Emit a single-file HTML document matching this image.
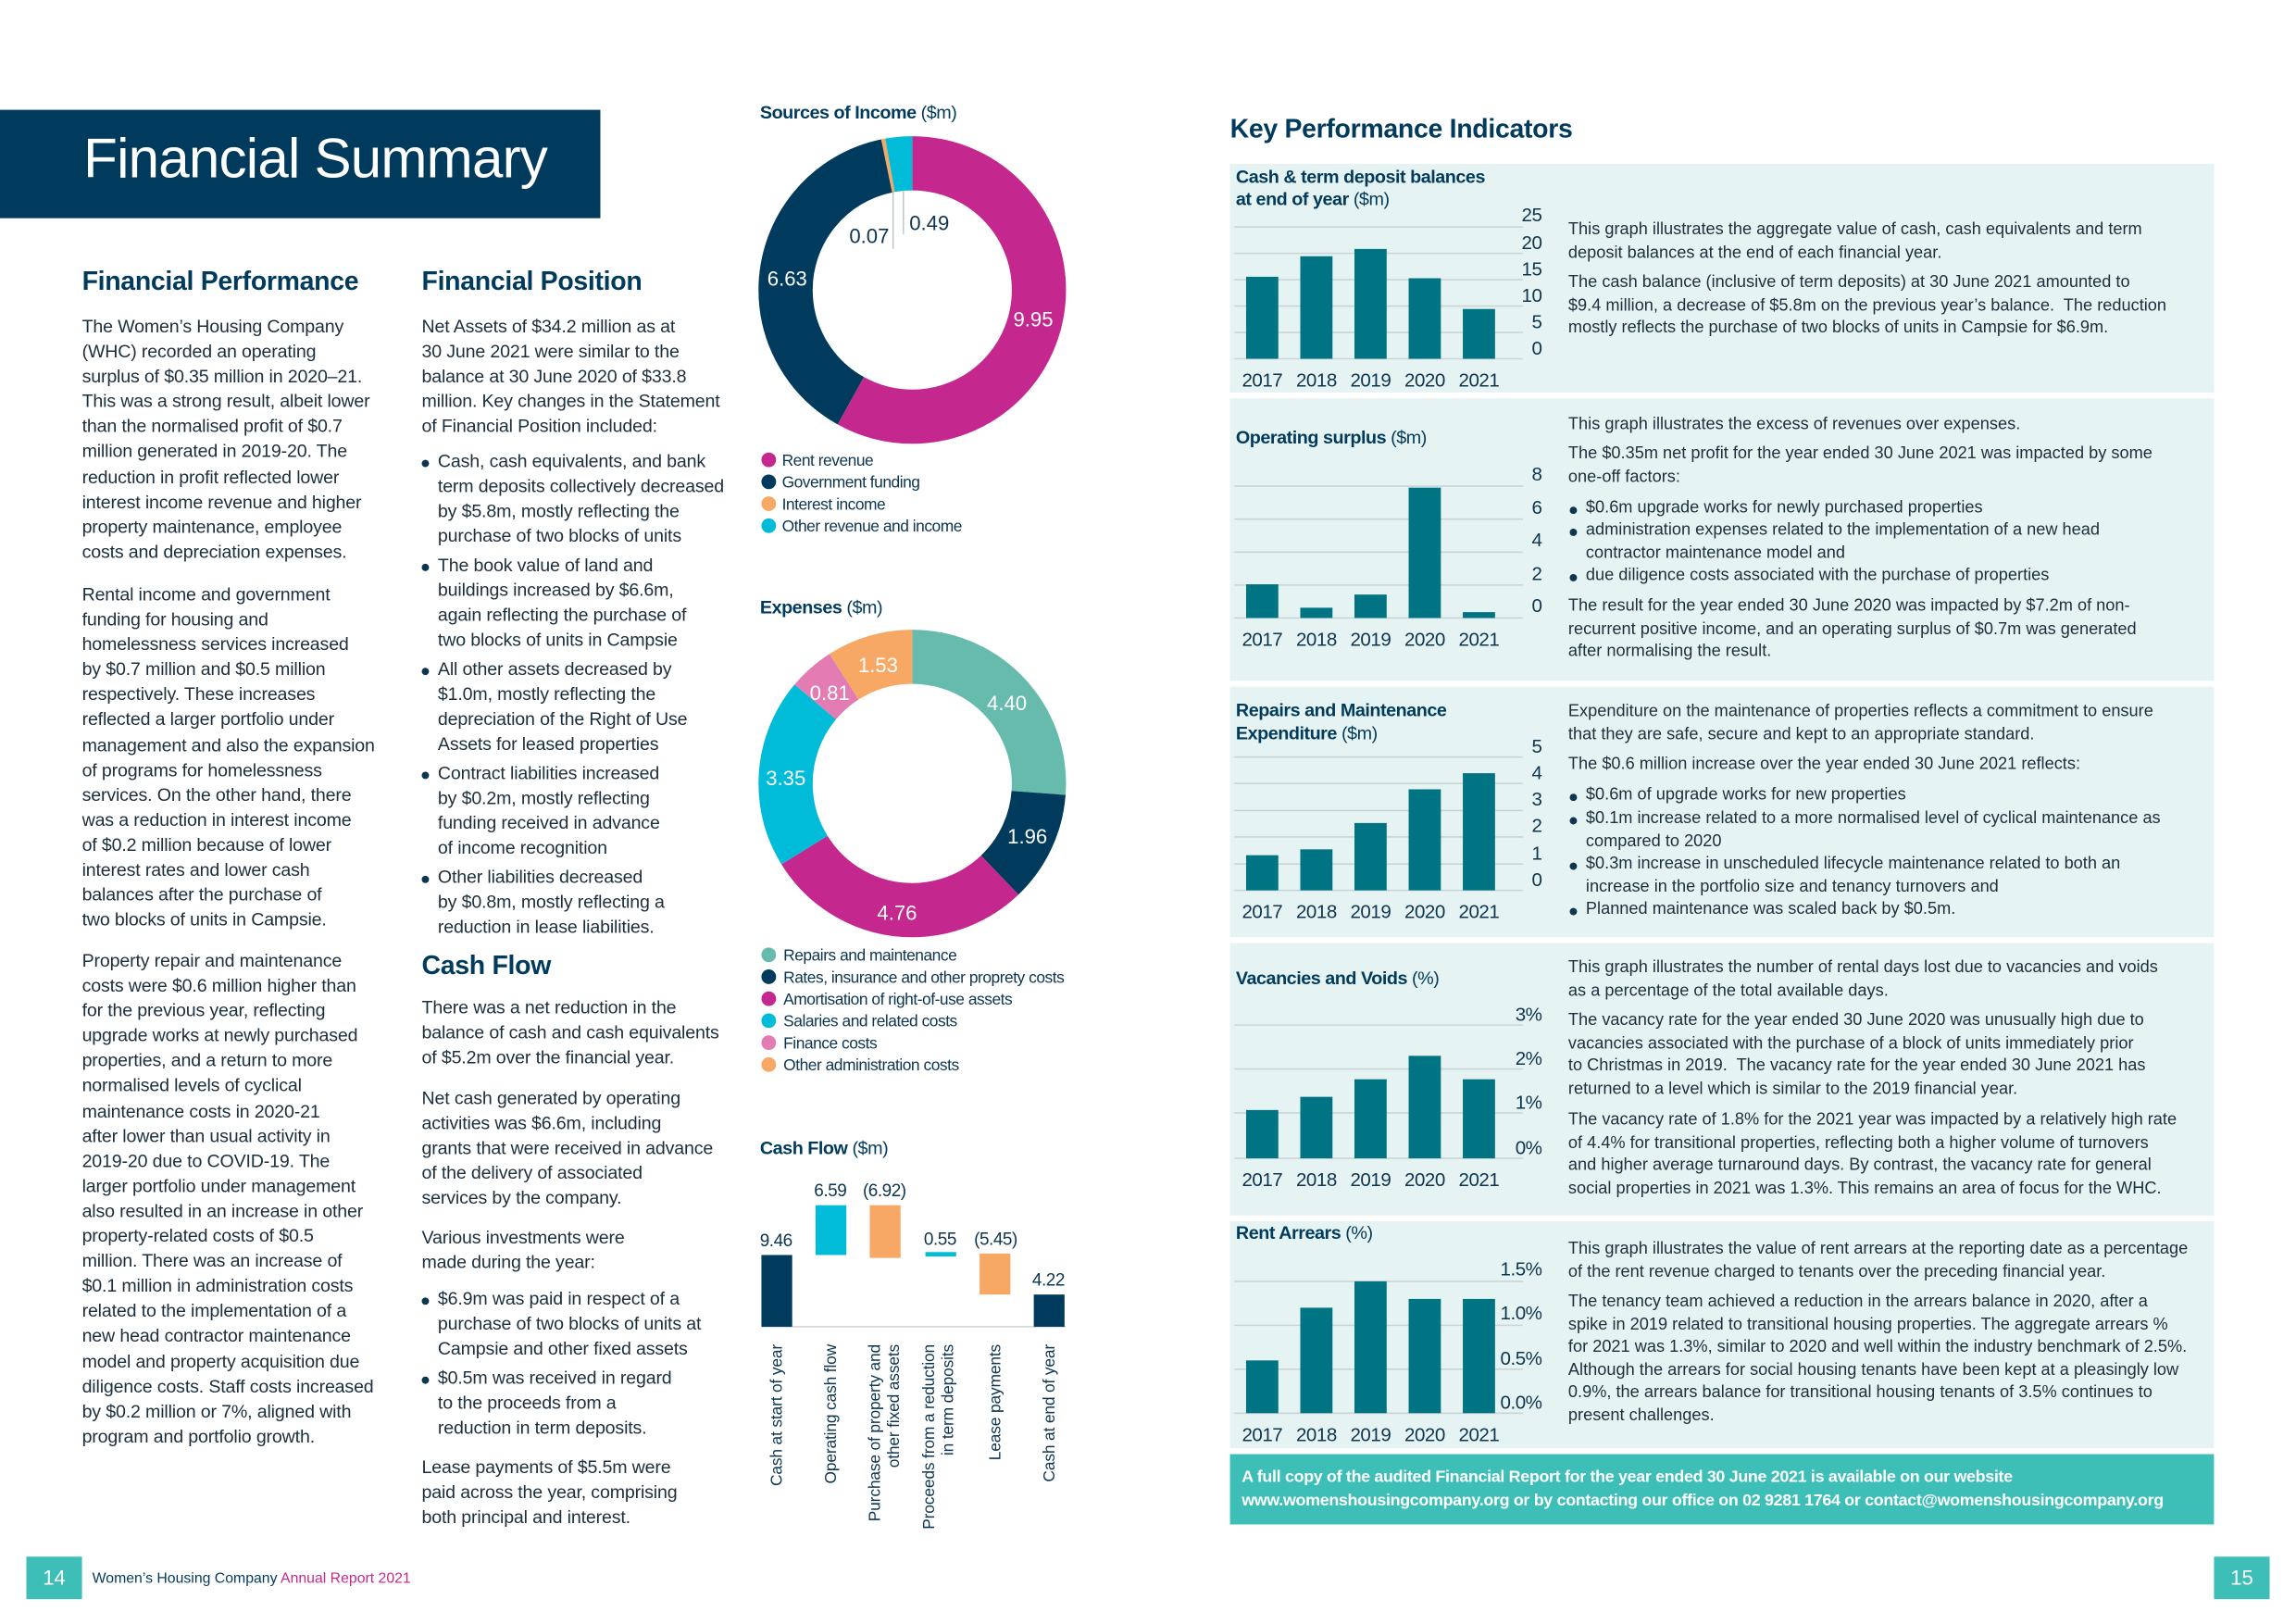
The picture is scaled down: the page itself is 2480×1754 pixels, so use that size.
<!DOCTYPE html>
<html><head><meta charset="utf-8">
<style>
html,body{margin:0;padding:0;background:#fff;}
body{width:2480px;height:1754px;overflow:hidden;position:relative;}
#w{position:absolute;left:0;top:0;width:1568px;height:1109px;transform:scale(1.58163);transform-origin:0 0;font-family:"Liberation Sans",sans-serif;color:#0d3550;}
.a{position:absolute;white-space:nowrap;}
.t{font-size:12.4px;line-height:17.1px;letter-spacing:-0.1px;color:#1c2f3c;}
.h{font-size:18px;color:#003a5c;letter-spacing:-0.2px;font-weight:600;}
.r{font-size:11.5px;line-height:15.6px;letter-spacing:0px;color:#1c2f3c;}
.b::before{content:"";position:absolute;left:-11px;top:7px;width:5px;height:5px;border-radius:50%;background:#0d3550;}
.rb::before{top:6px;}
.panel{position:absolute;left:840px;width:672px;background:#e6f3f3;}
</style></head><body><div id="w">

<div class="a" style="left:0;top:75px;width:410px;height:74px;background:#003a5c;"></div>
<div class="a" style="left:57px;top:88px;font-size:38px;color:#fff;letter-spacing:-0.5px;">Financial Summary</div>

<div class="a h" style="left:56px;top:182px;">Financial Performance</div>
<div class="a t" style="left:56px;top:215px;">The Women’s Housing Company<br>(WHC) recorded an operating<br>surplus of $0.35 million in 2020–21.<br>This was a strong result, albeit lower<br>than the normalised profit of $0.7<br>million generated in 2019-20. The<br>reduction in profit reflected lower<br>interest income revenue and higher<br>property maintenance, employee<br>costs and depreciation expenses.</div>
<div class="a t" style="left:56px;top:398px;">Rental income and government<br>funding for housing and<br>homelessness services increased<br>by $0.7 million and $0.5 million<br>respectively. These increases<br>reflected a larger portfolio under<br>management and also the expansion<br>of programs for homelessness<br>services. On the other hand, there<br>was a reduction in interest income<br>of $0.2 million because of lower<br>interest rates and lower cash<br>balances after the purchase of<br>two blocks of units in Campsie.</div>
<div class="a t" style="left:56px;top:648px;">Property repair and maintenance<br>costs were $0.6 million higher than<br>for the previous year, reflecting<br>upgrade works at newly purchased<br>properties, and a return to more<br>normalised levels of cyclical<br>maintenance costs in 2020-21<br>after lower than usual activity in<br>2019-20 due to COVID-19. The<br>larger portfolio under management<br>also resulted in an increase in other<br>property-related costs of $0.5<br>million. There was an increase of<br>$0.1 million in administration costs<br>related to the implementation of a<br>new head contractor maintenance<br>model and property acquisition due<br>diligence costs. Staff costs increased<br>by $0.2 million or 7%, aligned with<br>program and portfolio growth.</div>

<div class="a h" style="left:288px;top:182px;">Financial Position</div>
<div class="a t" style="left:288px;top:215px;">Net Assets of $34.2 million as at<br>30 June 2021 were similar to the<br>balance at 30 June 2020 of $33.8<br>million. Key changes in the Statement<br>of Financial Position included:</div>
<div class="a t b" style="left:299px;top:307px;">Cash, cash equivalents, and bank<br>term deposits collectively decreased<br>by $5.8m, mostly reflecting the<br>purchase of two blocks of units</div>
<div class="a t b" style="left:299px;top:378px;">The book value of land and<br>buildings increased by $6.6m,<br>again reflecting the purchase of<br>two blocks of units in Campsie</div>
<div class="a t b" style="left:299px;top:449px;">All other assets decreased by<br>$1.0m, mostly reflecting the<br>depreciation of the Right of Use<br>Assets for leased properties</div>
<div class="a t b" style="left:299px;top:520px;">Contract liabilities increased<br>by $0.2m, mostly reflecting<br>funding received in advance<br>of income recognition</div>
<div class="a t b" style="left:299px;top:591px;">Other liabilities decreased<br>by $0.8m, mostly reflecting a<br>reduction in lease liabilities.</div>
<div class="a h" style="left:288px;top:649px;">Cash Flow</div>
<div class="a t" style="left:288px;top:680px;">There was a net reduction in the<br>balance of cash and cash equivalents<br>of $5.2m over the financial year.</div>
<div class="a t" style="left:288px;top:742px;">Net cash generated by operating<br>activities was $6.6m, including<br>grants that were received in advance<br>of the delivery of associated<br>services by the company.</div>
<div class="a t" style="left:288px;top:837px;">Various investments were<br>made during the year:</div>
<div class="a t b" style="left:299px;top:879px;">$6.9m was paid in respect of a<br>purchase of two blocks of units at<br>Campsie and other fixed assets</div>
<div class="a t b" style="left:299px;top:933px;">$0.5m was received in regard<br>to the proceeds from a<br>reduction in term deposits.</div>
<div class="a t" style="left:288px;top:994px;">Lease payments of $5.5m were<br>paid across the year, comprising<br>both principal and interest.</div>

<div class="a" style="left:18px;top:1063px;width:38px;height:29px;background:#3dbfb8;color:#fff;font-size:14px;text-align:center;line-height:29px;">14</div>
<div class="a" style="left:63px;top:1073px;font-size:10px;color:#003a5c;">Women’s Housing Company <span style="color:#c4288f">Annual Report 2021</span></div>
<div class="a" style="left:1512px;top:1063px;width:38px;height:29px;background:#3dbfb8;color:#fff;font-size:14px;text-align:center;line-height:29px;">15</div>

<div class="a h" style="left:840px;top:78px;">Key Performance Indicators</div>
<div class="panel" style="top:112px;height:156px;"></div>
<div class="panel" style="top:272px;height:193px;"></div>
<div class="panel" style="top:469px;height:171px;"></div>
<div class="panel" style="top:644px;height:186px;"></div>
<div class="panel" style="top:834px;height:155px;"></div>
<div class="a" style="left:840px;top:993px;width:672px;height:48px;background:#3dbfb8;"></div>
<div class="a" style="left:848px;top:1002px;font-size:11.3px;line-height:15.5px;color:#fff;font-weight:bold;letter-spacing:-0.2px;">A full copy of the audited Financial Report for the year ended 30 June 2021 is available on our website<br>www.womenshousingcompany.org or by contacting our office on 02 9281 1764 or contact@womenshousingcompany.org</div>

<div class="a" style="left:844px;top:114px;font-size:12.5px;line-height:15px;color:#003a5c;font-weight:bold;letter-spacing:-0.3px;">Cash &amp; term deposit balances<br>at end of year <span style="font-weight:normal">($m)</span></div>
<div class="a" style="left:844px;top:292px;font-size:12.5px;color:#003a5c;font-weight:bold;letter-spacing:-0.3px;">Operating surplus <span style="font-weight:normal">($m)</span></div>
<div class="a" style="left:844px;top:477px;font-size:12.5px;line-height:16px;color:#003a5c;font-weight:bold;letter-spacing:-0.3px;">Repairs and Maintenance<br>Expenditure <span style="font-weight:normal">($m)</span></div>
<div class="a" style="left:844px;top:661px;font-size:12.5px;color:#003a5c;font-weight:bold;letter-spacing:-0.3px;">Vacancies and Voids <span style="font-weight:normal">(%)</span></div>
<div class="a" style="left:844px;top:835px;font-size:12.5px;color:#003a5c;font-weight:bold;letter-spacing:-0.3px;">Rent Arrears <span style="font-weight:normal">(%)</span></div>

<div class="a r" style="left:1071px;top:150px;">This graph illustrates the aggregate value of cash, cash equivalents and term<br>deposit balances at the end of each financial year.</div>
<div class="a r" style="left:1071px;top:186px;">The cash balance (inclusive of term deposits) at 30 June 2021 amounted to<br>$9.4 million, a decrease of $5.8m on the previous year’s balance.&nbsp; The reduction<br>mostly reflects the purchase of two blocks of units in Campsie for $6.9m.</div>

<div class="a r" style="left:1071px;top:283px;">This graph illustrates the excess of revenues over expenses.</div>
<div class="a r" style="left:1071px;top:303px;">The $0.35m net profit for the year ended 30 June 2021 was impacted by some<br>one-off factors:</div>
<div class="a r b rb" style="left:1083px;top:340px;">$0.6m upgrade works for newly purchased properties</div>
<div class="a r b rb" style="left:1083px;top:355px;">administration expenses related to the implementation of a new head<br>contractor maintenance model and</div>
<div class="a r b rb" style="left:1083px;top:386px;">due diligence costs associated with the purchase of properties</div>
<div class="a r" style="left:1071px;top:407px;">The result for the year ended 30 June 2020 was impacted by $7.2m of non-<br>recurrent positive income, and an operating surplus of $0.7m was generated<br>after normalising the result.</div>

<div class="a r" style="left:1071px;top:479px;">Expenditure on the maintenance of properties reflects a commitment to ensure<br>that they are safe, secure and kept to an appropriate standard.</div>
<div class="a r" style="left:1071px;top:515px;">The $0.6 million increase over the year ended 30 June 2021 reflects:</div>
<div class="a r b rb" style="left:1083px;top:536px;">$0.6m of upgrade works for new properties</div>
<div class="a r b rb" style="left:1083px;top:552px;">$0.1m increase related to a more normalised level of cyclical maintenance as<br>compared to 2020</div>
<div class="a r b rb" style="left:1083px;top:583px;">$0.3m increase in unscheduled lifecycle maintenance related to both an<br>increase in the portfolio size and tenancy turnovers and</div>
<div class="a r b rb" style="left:1083px;top:614px;">Planned maintenance was scaled back by $0.5m.</div>

<div class="a r" style="left:1071px;top:654px;">This graph illustrates the number of rental days lost due to vacancies and voids<br>as a percentage of the total available days.</div>
<div class="a r" style="left:1071px;top:690px;">The vacancy rate for the year ended 30 June 2020 was unusually high due to<br>vacancies associated with the purchase of a block of units immediately prior<br>to Christmas in 2019.&nbsp; The vacancy rate for the year ended 30 June 2021 has<br>returned to a level which is similar to the 2019 financial year.</div>
<div class="a r" style="left:1071px;top:758px;">The vacancy rate of 1.8% for the 2021 year was impacted by a relatively high rate<br>of 4.4% for transitional properties, reflecting both a higher volume of turnovers<br>and higher average turnaround days. By contrast, the vacancy rate for general<br>social properties in 2021 was 1.3%. This remains an area of focus for the WHC.</div>

<div class="a r" style="left:1071px;top:846px;">This graph illustrates the value of rent arrears at the reporting date as a percentage<br>of the rent revenue charged to tenants over the preceding financial year.</div>
<div class="a r" style="left:1071px;top:882px;">The tenancy team achieved a reduction in the arrears balance in 2020, after a<br>spike in 2019 related to transitional housing properties. The aggregate arrears %<br>for 2021 was 1.3%, similar to 2020 and well within the industry benchmark of 2.5%.<br>Although the arrears for social housing tenants have been kept at a pleasingly low<br>0.9%, the arrears balance for transitional housing tenants of 3.5% continues to<br>present challenges.</div>

<svg class="a" style="left:0;top:0" width="1568" height="1109" viewBox="0 0 1568 1109" font-family="Liberation Sans, sans-serif">
<text x="519" y="81" font-size="12.5" fill="#003a5c" font-weight="bold" letter-spacing="-0.3">Sources of Income <tspan font-weight="normal">($m)</tspan></text>
<g transform="rotate(-90 623 198)" fill="none" stroke-width="37">
<circle cx="623" cy="198" r="86.5" stroke="#c4288f" stroke-dasharray="315.5 1000" stroke-dashoffset="0"/>
<circle cx="623" cy="198" r="86.5" stroke="#003a5c" stroke-dasharray="210.2 1000" stroke-dashoffset="-315.5"/>
<circle cx="623" cy="198" r="86.5" stroke="#f7a864" stroke-dasharray="2.3 1000" stroke-dashoffset="-525.7"/>
<circle cx="623" cy="198" r="86.5" stroke="#00bcd8" stroke-dasharray="15.6 1000" stroke-dashoffset="-528"/>
</g>
<line x1="610" y1="130" x2="610" y2="170" stroke="#9aa" stroke-width="0.6"/>
<line x1="617" y1="130" x2="617" y2="160" stroke="#9aa" stroke-width="0.6"/>
<g font-size="14" fill="#fff"><text x="692" y="223">9.95</text><text x="524" y="195">6.63</text></g>
<g font-size="14" fill="#0d3550"><text x="580" y="166">0.07</text><text x="621" y="157">0.49</text></g>
<g font-size="11" fill="#0d3550" letter-spacing="-0.3">
<circle cx="525" cy="314" r="5" fill="#c4288f"/><text x="534" y="318">Rent revenue</text>
<circle cx="525" cy="329" r="5" fill="#003a5c"/><text x="534" y="333">Government funding</text>
<circle cx="525" cy="344" r="5" fill="#f7a864"/><text x="534" y="348">Interest income</text>
<circle cx="525" cy="359" r="5" fill="#00bcd8"/><text x="534" y="363">Other revenue and income</text>
</g>
<text x="519" y="419" font-size="12.5" fill="#003a5c" font-weight="bold" letter-spacing="-0.3">Expenses <tspan font-weight="normal">($m)</tspan></text>
<g transform="rotate(-90 623 535)" fill="none" stroke-width="37">
<circle cx="623" cy="535" r="86.5" stroke="#66bbad" stroke-dasharray="142.3 1000" stroke-dashoffset="0"/>
<circle cx="623" cy="535" r="86.5" stroke="#003a5c" stroke-dasharray="63.4 1000" stroke-dashoffset="-142.3"/>
<circle cx="623" cy="535" r="86.5" stroke="#c4288f" stroke-dasharray="153.9 1000" stroke-dashoffset="-205.7"/>
<circle cx="623" cy="535" r="86.5" stroke="#00bcd8" stroke-dasharray="108.3 1000" stroke-dashoffset="-359.6"/>
<circle cx="623" cy="535" r="86.5" stroke="#e27cb3" stroke-dasharray="26.2 1000" stroke-dashoffset="-467.9"/>
<circle cx="623" cy="535" r="86.5" stroke="#f7a864" stroke-dasharray="49.5 1000" stroke-dashoffset="-494.1"/>
</g>
<g font-size="14" fill="#fff"><text x="674" y="485">4.40</text><text x="688" y="576">1.96</text><text x="599" y="628">4.76</text><text x="523" y="536">3.35</text><text x="553" y="478">0.81</text><text x="586" y="459">1.53</text></g>
<g font-size="11" fill="#0d3550" letter-spacing="-0.3">
<circle cx="525" cy="652" r="5" fill="#66bbad"/><text x="535" y="656">Repairs and maintenance</text>
<circle cx="525" cy="667" r="5" fill="#003a5c"/><text x="535" y="671">Rates, insurance and other proprety costs</text>
<circle cx="525" cy="682" r="5" fill="#c4288f"/><text x="535" y="686">Amortisation of right-of-use assets</text>
<circle cx="525" cy="697" r="5" fill="#00bcd8"/><text x="535" y="701">Salaries and related costs</text>
<circle cx="525" cy="712" r="5" fill="#e27cb3"/><text x="535" y="716">Finance costs</text>
<circle cx="525" cy="727" r="5" fill="#f7a864"/><text x="535" y="731">Other administration costs</text>
</g>
<text x="519" y="788" font-size="12.5" fill="#003a5c" font-weight="bold" letter-spacing="-0.3">Cash Flow <tspan font-weight="normal">($m)</tspan></text>
<line x1="520" y1="906" x2="728" y2="906" stroke="#d0d6d9" stroke-width="1"/>
<rect x="520" y="857" width="21" height="49" fill="#003a5c"/>
<rect x="557" y="823" width="21" height="34" fill="#00bcd8"/>
<rect x="594" y="823" width="21" height="36" fill="#f7a864"/>
<rect x="632" y="855" width="21" height="3" fill="#00bcd8"/>
<rect x="669" y="856" width="21" height="28" fill="#f7a864"/>
<rect x="706" y="884" width="21" height="22" fill="#003a5c"/>
<g font-size="12" fill="#0d3550" letter-spacing="-0.3" text-anchor="middle">
<text x="530" y="851">9.46</text><text x="567" y="817">6.59</text><text x="604" y="817">(6.92)</text><text x="642" y="850">0.55</text><text x="680" y="850">(5.45)</text><text x="716" y="878">4.22</text>
</g>
<g font-size="11" fill="#0d3550" text-anchor="end" letter-spacing="-0.1">
<text transform="translate(534 918) rotate(-90)">Cash at start of year</text>
<text transform="translate(571 918) rotate(-90)">Operating cash flow</text>
<text transform="translate(601 918) rotate(-90)">Purchase of property and</text>
<text transform="translate(614 918) rotate(-90)">other fixed assets</text>
<text transform="translate(638 918) rotate(-90)">Proceeds from a reduction</text>
<text transform="translate(651 918) rotate(-90)">in term deposits</text>
<text transform="translate(683 918) rotate(-90)">Lease payments</text>
<text transform="translate(720 918) rotate(-90)">Cash at end of year</text>
</g>

<g stroke="#c9d4d6" stroke-width="1">
<line x1="843" x2="1040" y1="155" y2="155"/><line x1="843" x2="1040" y1="173" y2="173"/><line x1="843" x2="1040" y1="191" y2="191"/><line x1="843" x2="1040" y1="209" y2="209"/><line x1="843" x2="1040" y1="227" y2="227"/><line x1="843" x2="1040" y1="245" y2="245"/>
<line x1="843" x2="1040" y1="332" y2="332"/><line x1="843" x2="1040" y1="354.5" y2="354.5"/><line x1="843" x2="1040" y1="377" y2="377"/><line x1="843" x2="1040" y1="399.5" y2="399.5"/><line x1="843" x2="1040" y1="422" y2="422"/>
<line x1="843" x2="1040" y1="517" y2="517"/><line x1="843" x2="1040" y1="535" y2="535"/><line x1="843" x2="1040" y1="553.5" y2="553.5"/><line x1="843" x2="1040" y1="571.5" y2="571.5"/><line x1="843" x2="1040" y1="590" y2="590"/><line x1="843" x2="1040" y1="608" y2="608"/>
<line x1="843" x2="1040" y1="700" y2="700"/><line x1="843" x2="1040" y1="730" y2="730"/><line x1="843" x2="1040" y1="760" y2="760"/><line x1="843" x2="1040" y1="791" y2="791"/>
<line x1="843" x2="1040" y1="875" y2="875"/><line x1="843" x2="1040" y1="905" y2="905"/><line x1="843" x2="1040" y1="935" y2="935"/><line x1="843" x2="1040" y1="965" y2="965"/>
</g>
<g fill="#007483">
<rect x="851" y="189" width="22" height="56"/><rect x="888" y="175" width="22" height="70"/><rect x="925" y="170" width="22" height="75"/><rect x="962" y="190" width="22" height="55"/><rect x="999" y="211" width="22" height="34"/>
<rect x="851" y="399" width="22" height="23"/><rect x="888" y="415" width="22" height="7"/><rect x="925" y="406" width="22" height="16"/><rect x="962" y="333" width="22" height="89"/><rect x="999" y="418" width="22" height="4"/>
<rect x="851" y="584" width="22" height="24"/><rect x="888" y="580" width="22" height="28"/><rect x="925" y="562" width="22" height="46"/><rect x="962" y="539" width="22" height="69"/><rect x="999" y="528" width="22" height="80"/>
<rect x="851" y="758" width="22" height="33"/><rect x="888" y="749" width="22" height="42"/><rect x="925" y="737" width="22" height="54"/><rect x="962" y="721" width="22" height="70"/><rect x="999" y="737" width="22" height="54"/>
<rect x="851" y="929" width="22" height="36"/><rect x="888" y="893" width="22" height="72"/><rect x="925" y="875" width="22" height="90"/><rect x="962" y="887" width="22" height="78"/><rect x="999" y="887" width="22" height="78"/>
</g>
<g font-size="13" fill="#0d3550" text-anchor="end" letter-spacing="-0.3">
<text x="1053" y="151">25</text><text x="1053" y="170">20</text><text x="1053" y="188">15</text><text x="1053" y="206">10</text><text x="1053" y="224">5</text><text x="1053" y="242">0</text>
<text x="1053" y="328">8</text><text x="1053" y="351">6</text><text x="1053" y="373">4</text><text x="1053" y="396">2</text><text x="1053" y="418">0</text>
<text x="1053" y="514">5</text><text x="1053" y="532">4</text><text x="1053" y="550">3</text><text x="1053" y="568">2</text><text x="1053" y="587">1</text><text x="1053" y="605">0</text>
<text x="1053" y="697">3%</text><text x="1053" y="727">2%</text><text x="1053" y="757">1%</text><text x="1053" y="788">0%</text>
<text x="1053" y="871">1.5%</text><text x="1053" y="901">1.0%</text><text x="1053" y="932">0.5%</text><text x="1053" y="962">0.0%</text>
</g>
<g font-size="13" fill="#0d3550" text-anchor="middle" letter-spacing="-0.3">
<text x="862" y="264">2017</text><text x="899" y="264">2018</text><text x="936" y="264">2019</text><text x="973" y="264">2020</text><text x="1010" y="264">2021</text>
<text x="862" y="441">2017</text><text x="899" y="441">2018</text><text x="936" y="441">2019</text><text x="973" y="441">2020</text><text x="1010" y="441">2021</text>
<text x="862" y="627">2017</text><text x="899" y="627">2018</text><text x="936" y="627">2019</text><text x="973" y="627">2020</text><text x="1010" y="627">2021</text>
<text x="862" y="810">2017</text><text x="899" y="810">2018</text><text x="936" y="810">2019</text><text x="973" y="810">2020</text><text x="1010" y="810">2021</text>
<text x="862" y="984">2017</text><text x="899" y="984">2018</text><text x="936" y="984">2019</text><text x="973" y="984">2020</text><text x="1010" y="984">2021</text>
</g>
</svg>
</div></body></html>
